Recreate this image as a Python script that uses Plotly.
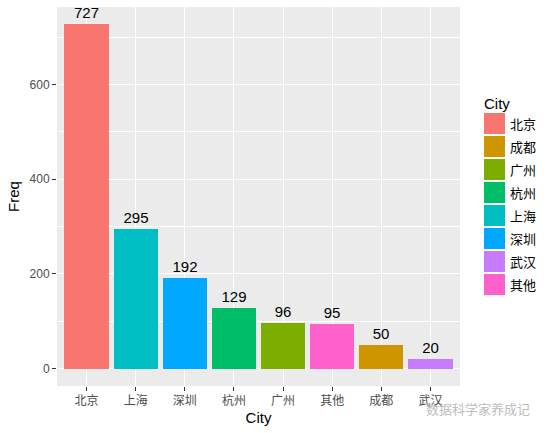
import plotly.graph_objects as go

# data
cities = ['北京', '上海', '深圳', '杭州', '广州', '其他', '成都', '武汉']
freq = [727, 295, 192, 129, 96, 95, 50, 20]

# legend order (factor levels) and ggplot hue colours
legend_order = ['北京', '成都', '广州', '杭州', '上海', '深圳', '武汉', '其他']
hue = ['#F8766D', '#CD9600', '#7CAE00', '#00BE67',
       '#00BFC4', '#00A9FF', '#C77CFF', '#FF61CC']
colour_of = dict(zip(legend_order, hue))

W, H = 548, 433
L, R, T, B = 57, 88, 7, 47
PW, PH = W - L - R, H - T - B

FONT = 'Liberation Sans, Arial, Noto Sans CJK SC, sans-serif'

fig = go.Figure()
fig.add_trace(go.Bar(
    x=cities, y=freq, width=0.9,
    marker=dict(color=[colour_of[c] for c in cities], line=dict(width=0)),
    text=[str(v) for v in freq], textposition='outside',
    textfont=dict(size=15, color='black', family=FONT),
    cliponaxis=False, showlegend=False, hoverinfo='x+y',
))

ymax = max(freq)
pad = ymax * 0.05

fig.update_layout(
    width=W, height=H,
    margin=dict(l=L, r=R, t=T, b=B),
    paper_bgcolor='white', plot_bgcolor='#EBEBEB',
    font=dict(family=FONT, size=12, color='black'),
    bargap=0,
    showlegend=False,
)
fig.update_xaxes(
    type='category', range=[-0.6, len(cities) - 0.4],
    showgrid=True, gridcolor='white', gridwidth=1.1, zeroline=False,
    ticks='outside', ticklen=4, tickcolor='#333333', tickwidth=1,
    tickfont=dict(size=12, color='#4D4D4D'),
    title=dict(text='City', font=dict(size=15, color='black'), standoff=5),
)
fig.update_yaxes(
    range=[-pad, ymax + pad], dtick=200,
    showgrid=True, gridcolor='white', gridwidth=1.1, zeroline=False,
    minor=dict(dtick=100, showgrid=True, gridcolor='white', gridwidth=0.5),
    ticks='outside', ticklen=4, tickcolor='#333333', tickwidth=1,
    tickfont=dict(size=12, color='#4D4D4D'),
    title=dict(text='Freq', font=dict(size=15, color='black'), standoff=6),
)

# ggplot-style legend drawn beside the panel
def px_x(p):
    return (p - L) / PW

def px_y(p):
    return 1 - (p - T) / PH

key_x0, key_w, key_h, step, top = 484, 21, 21, 23, 113
fig.add_annotation(x=px_x(482), y=px_y(104), xref='paper', yref='paper',
                   text='City', showarrow=False, xanchor='left', yanchor='middle',
                   font=dict(size=15, color='black'))
for i, name in enumerate(legend_order):
    y0 = top + i * step
    fig.add_shape(type='rect', xref='paper', yref='paper',
                  x0=px_x(key_x0), x1=px_x(key_x0 + key_w),
                  y0=px_y(y0), y1=px_y(y0 + key_h),
                  fillcolor=colour_of[name], line=dict(width=0))
    fig.add_annotation(x=px_x(key_x0 + key_w + 3), y=px_y(y0 + key_h / 2),
                       xref='paper', yref='paper', text=name, showarrow=False,
                       xanchor='left', yanchor='middle',
                       font=dict(size=13, color='black', family='Noto Sans CJK SC'))

# watermark
fig.add_annotation(x=px_x(532), y=px_y(408), xref='paper', yref='paper',
                   text='数据科学家养成记', showarrow=False,
                   xanchor='right', yanchor='middle',
                   font=dict(size=13, color='#BDBDBD', family='Noto Sans CJK SC'))

# page body has a default 8px margin; drop it so the figure sits at the corner
fig.write_html('out.html', config={'displayModeBar': False},
               post_script="document.body.style.margin='0';")
